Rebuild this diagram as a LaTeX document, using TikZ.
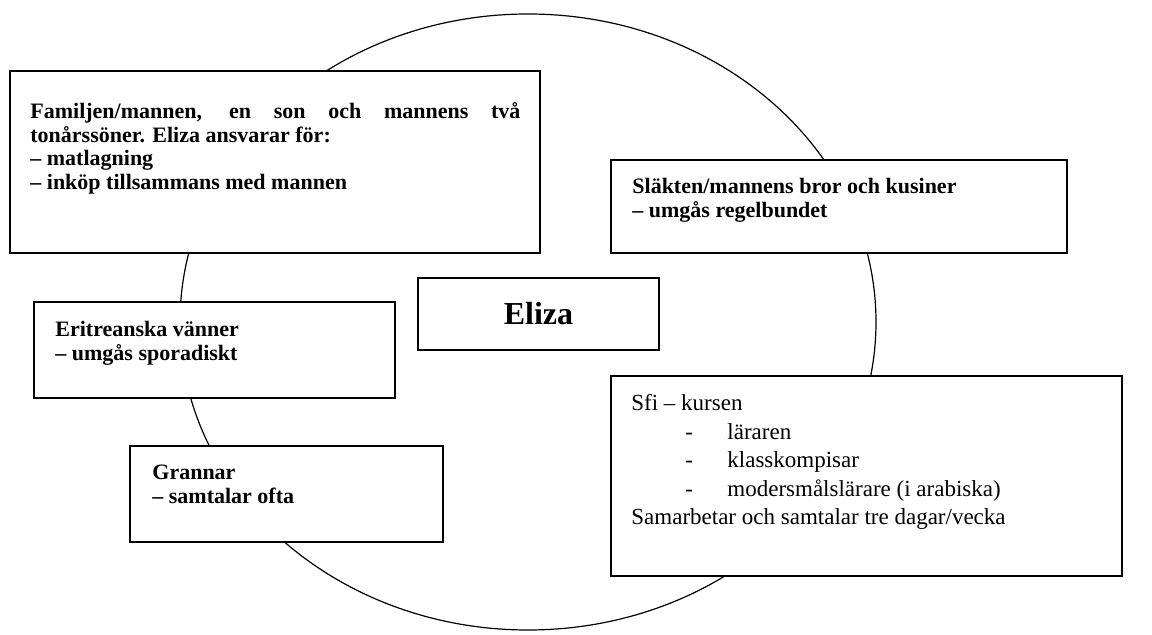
\documentclass[tikz,border=0pt]{standalone}
\usepackage{fontspec}
\setmainfont{Liberation Serif}
\usepackage{tikz}
\usetikzlibrary{positioning}
\newcommand{\sfidash}[1]{\hspace*{27pt}\makebox[21pt][l]{-}#1}

\begin{document}
\begin{tikzpicture}[x=0.5pt, y=-0.5pt,
  frame/.style={draw, line width=0.8pt, fill=white},
  boldtext/.style={anchor=base west, inner sep=0pt, font=\bfseries\fontsize{11}{11.75}\selectfont},
  plaintext/.style={anchor=base west, inner sep=0pt, font=\fontsize{11.5}{14.2}\selectfont}]
\useasboundingbox (0,0) rectangle (1152,635);

% Circle round Eliza
\draw[line width=0.6pt] (528,322) ellipse [x radius=174pt, y radius=154pt];

% Family
\draw[frame] (10,71) rectangle (540,253);
\node[boldtext] (family) at (30,119) {
\begin{minipage}[t]{245pt}
\makebox[245pt][s]{Familjen/mannen, en son och mannens två}\\
tonårssöner. Eliza ansvarar för:\\
– matlagning\\
– inköp tillsammans med mannen
\end{minipage}
};

% Relatives
\draw[frame] (611,160) rectangle (1067,253);
\node[boldtext] (relatives) at (632,194) {
\begin{minipage}[t]{200pt}
Släkten/mannens bror och kusiner\\
– umgås regelbundet
\end{minipage}
};

% Eliza
\draw[frame] (418,278) rectangle (659,350);
\node[font=\bfseries\fontsize{16}{19}\selectfont] (eliza) at (538.5,314) {Eliza};

% Friends
\draw[frame] (34,302) rectangle (395,398);
\node[boldtext] (friends) at (55,337) {
\begin{minipage}[t]{160pt}
Eritreanska vänner\\
– umgås sporadiskt
\end{minipage}
};

% Neighbours
\draw[frame] (130,446) rectangle (443,542);
\node[boldtext] (neighbours) at (152,480) {
\begin{minipage}[t]{140pt}
Grannar\\
– samtalar ofta
\end{minipage}
};

% Sfi
\draw[frame] (611,376) rectangle (1122,576);
\node[plaintext] (sfi) at (631,411) {
\begin{minipage}[t]{230pt}
Sfi – kursen\\
\sfidash{läraren}\\
\sfidash{klasskompisar}\\
\sfidash{modersmålslärare (i arabiska)}\\
Samarbetar och samtalar tre dagar/vecka
\end{minipage}
};
\end{tikzpicture}
\end{document}
